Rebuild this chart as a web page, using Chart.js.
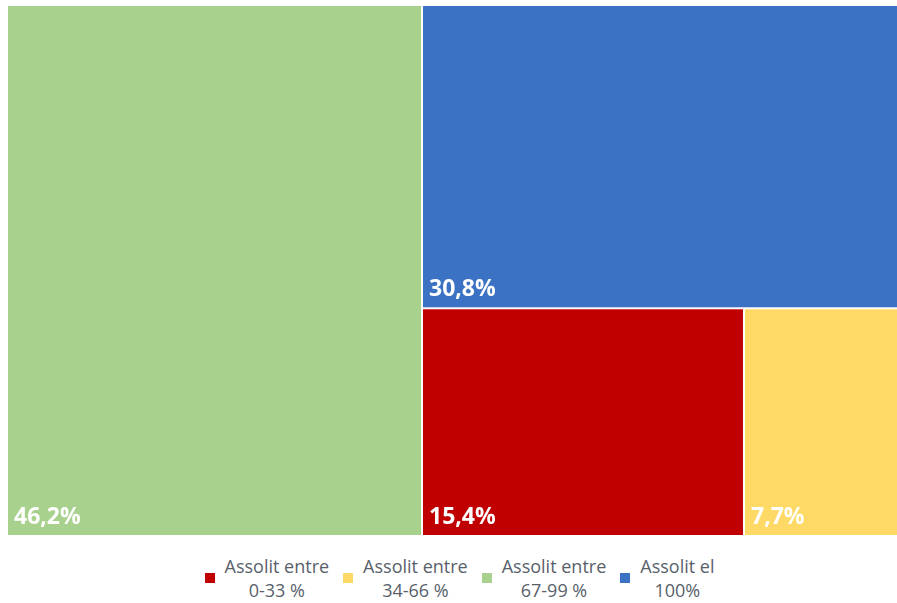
<!DOCTYPE html>
<html>
<head>
<meta charset="utf-8">
<title>Assoliment</title>
<script src="https://cdn.jsdelivr.net/npm/chart.js"></script>
<style>
    body { margin: 0; background: #fff; font-family: "Open Sans", sans-serif; overflow: hidden; width: 897px; }
    #wrap { width: 905px; height: 545px; position: relative; }
    .legend { display: flex; justify-content: center; width: 897px; box-sizing: border-box; padding-left: 22px; margin-top: 9px; color: #595f6b; font-size: 18px; line-height: 24px; }
    .legend .item { display: flex; align-items: center; margin: 0 7px; }
    .legend .box { width: 10px; height: 10px; margin-right: 10px; }
    .legend .txt { text-align: center; }
</style>
</head>
<body>
<div id="wrap"><canvas id="treemap"></canvas></div>
<div class="legend" id="legend"></div>

<script>
// Dades del gràfic
const categories = [['Assolit entre', '0-33 %'], ['Assolit entre', '34-66 %'], ['Assolit entre', '67-99 %'], ['Assolit el', '100%']];
const values = [15.4, 7.7, 46.2, 30.8];
const colors = ['#C00000', '#FFD966', '#A9D18E', '#3B72C4'];

// Disposició squarified dins d'un rectangle W x H
function squarify(vals, W, H) {
    const total = vals.reduce((a, b) => a + b, 0);
    const k = W * H / total;
    const items = vals.map((v, i) => ({ i, a: v * k })).sort((p, q) => q.a - p.a);
    const rects = [];
    let x = 0, y = 0, w = W, h = H;
    let row = [];

    const worst = (r, side) => {
        const s = r.reduce((acc, it) => acc + it.a, 0);
        let m = 0;
        r.forEach(it => {
            m = Math.max(m, side * side * it.a / (s * s), s * s / (side * side * it.a));
        });
        return m;
    };

    const place = (r) => {
        const s = r.reduce((acc, it) => acc + it.a, 0);
        if (w >= h) {
            const cw = s / h;
            let yy = y;
            r.forEach(it => {
                const hh = it.a / cw;
                rects[it.i] = { x0: x, y0: yy, x1: x + cw, y1: yy + hh };
                yy += hh;
            });
            x += cw; w -= cw;
        } else {
            const rh = s / w;
            let xx = x;
            r.forEach(it => {
                const ww = it.a / rh;
                rects[it.i] = { x0: xx, y0: y, x1: xx + ww, y1: y + rh };
                xx += ww;
            });
            y += rh; h -= rh;
        }
    };

    while (items.length) {
        const side = Math.min(w, h);
        if (row.length === 0 || worst(row.concat([items[0]]), side) <= worst(row, side)) {
            row.push(items.shift());
        } else {
            place(row);
            row = [];
        }
    }
    if (row.length) place(row);
    // passar a unitats de dades (0..1)
    return rects.map(r => ({ x0: r.x0 / W, x1: r.x1 / W, y0: r.y0 / H, y1: r.y1 / H }));
}

const treemapPlugin = {
    id: 'treemapCells',
    afterDatasetsDraw(chart) {
        const { ctx, chartArea, scales } = chart;
        const cells = squarify(values, chartArea.width, chartArea.height);
        const gap = 1;
        ctx.save();
        cells.forEach((c, i) => {
            let left = scales.x.getPixelForValue(c.x0);
            let right = scales.x.getPixelForValue(c.x1);
            let top = scales.y.getPixelForValue(c.y0);
            let bottom = scales.y.getPixelForValue(c.y1);
            if (c.x0 > 0.0001) left += gap;
            if (c.x1 < 0.9999) right -= gap;
            if (c.y0 > 0.0001) top += gap;
            if (c.y1 < 0.9999) bottom -= gap;
            ctx.fillStyle = colors[i];
            ctx.fillRect(left, top, right - left, bottom - top);

            ctx.fillStyle = '#ffffff';
            ctx.font = 'bold 23px "Open Sans"';
            ctx.textAlign = 'left';
            ctx.textBaseline = 'alphabetic';
            ctx.fillText(values[i].toFixed(1).replace('.', ',') + '%', left + 6, bottom - 11);
        });
        ctx.restore();
    }
};

new Chart(document.getElementById('treemap'), {
    type: 'scatter',
    data: {
        datasets: categories.map((c, i) => ({
            label: c.join(' '),
            data: [],
            backgroundColor: colors[i]
        }))
    },
    options: {
        responsive: true,
        maintainAspectRatio: false,
        animation: false,
        layout: { padding: { left: 8, top: 6, right: 0, bottom: 10 } },
        scales: {
            x: { type: 'linear', min: 0, max: 1, display: false },
            y: { type: 'linear', min: 0, max: 1, reverse: true, display: false }
        },
        plugins: {
            legend: { display: false },
            tooltip: { enabled: false }
        }
    },
    plugins: [treemapPlugin]
});

// Llegenda en HTML (etiquetes de dues línies)
const legendEl = document.getElementById('legend');
categories.forEach((c, i) => {
    const item = document.createElement('div');
    item.className = 'item';
    item.innerHTML = '<span class="box" style="background:' + colors[i] + '"></span>' +
        '<div class="txt">' + c[0] + '<br>' + c[1] + '</div>';
    legendEl.appendChild(item);
});
</script>
</body>
</html>
